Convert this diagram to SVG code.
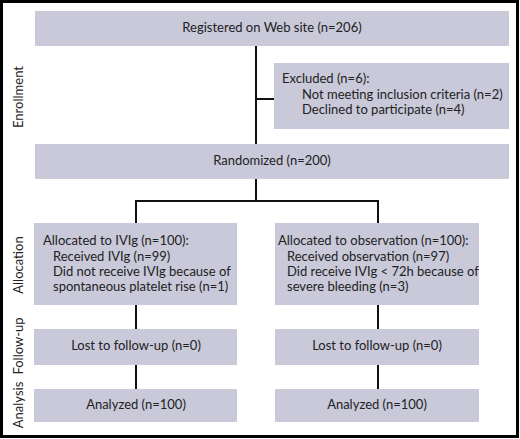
<svg xmlns="http://www.w3.org/2000/svg" width="520" height="439" viewBox="0 0 520 439">
<style>
.box{fill:#c9c9da;}
.t{font-family:Lato,"Noto Sans",sans-serif;font-size:13px;fill:#222;}
.c{text-anchor:middle;}
.side{font-family:Lato,"Noto Sans",sans-serif;font-size:13px;fill:#222;text-anchor:middle;}
.ln{stroke:#111;stroke-width:2;fill:none;}
</style>
<rect x="0" y="0" width="520" height="439" fill="#fff"/>
<rect x="1.5" y="1.5" width="516" height="435" fill="none" stroke="#000" stroke-width="3"/>
<g id="labels">
<text class="side" transform="translate(23,97) rotate(-90)">Enrollment</text>
<text class="side" transform="translate(23,265) rotate(-90)">Allocation</text>
<text class="side" transform="translate(23,346) rotate(-90)">Follow-up</text>
<text class="side" transform="translate(23,405) rotate(-90)">Analysis</text>
</g>
<g id="connectors">
<path class="ln" d="M256,46 V144 M256,99 H274 M256,179 V201 M136,201 H378 M136,200 V223 M378,200 V223 M136,305 V329 M136,365 V389 M378,305 V329 M378,365 V389"/>
</g>
<g id="registered">
<rect class="box" x="35" y="11" width="474" height="35"/>
<text class="t c" x="272" y="32">Registered on Web site (n=206)</text>
</g>
<g id="excluded">
<rect class="box" x="274" y="63" width="235" height="66"/>
<text class="t" x="282" y="83">Excluded (n=6):</text>
<text class="t" x="302" y="99">Not meeting inclusion criteria (n=2)</text>
<text class="t" x="302" y="114">Declined to participate (n=4)</text>
</g>
<g id="randomized">
<rect class="box" x="35" y="144" width="474" height="35"/>
<text class="t c" x="272" y="165">Randomized (n=200)</text>
</g>
<g id="alloc-ivig">
<rect class="box" x="34" y="223" width="203" height="82"/>
<text class="t" x="43" y="245">Allocated to IVIg (n=100):</text>
<text class="t" x="53" y="261">Received IVIg (n=99)</text>
<text class="t" x="53" y="276">Did not receive IVIg because of</text>
<text class="t" x="53" y="291">spontaneous platelet rise (n=1)</text>
</g>
<g id="alloc-obs">
<rect class="box" x="275" y="223" width="204" height="82"/>
<text class="t" x="278" y="245">Allocated to observation (n=100):</text>
<text class="t" x="287" y="261">Received observation (n=97)</text>
<text class="t" x="287" y="276">Did receive IVIg &lt; 72h because of</text>
<text class="t" x="287" y="291">severe bleeding (n=3)</text>
</g>
<g id="lost-ivig">
<rect class="box" x="34" y="329" width="203" height="36"/>
<text class="t c" x="136" y="350">Lost to follow-up (n=0)</text>
</g>
<g id="lost-obs">
<rect class="box" x="275" y="329" width="204" height="36"/>
<text class="t c" x="377" y="350">Lost to follow-up (n=0)</text>
</g>
<g id="analyzed-ivig">
<rect class="box" x="34" y="389" width="203" height="33"/>
<text class="t c" x="136" y="409">Analyzed (n=100)</text>
</g>
<g id="analyzed-obs">
<rect class="box" x="275" y="389" width="204" height="33"/>
<text class="t c" x="377" y="409">Analyzed (n=100)</text>
</g>
</svg>
